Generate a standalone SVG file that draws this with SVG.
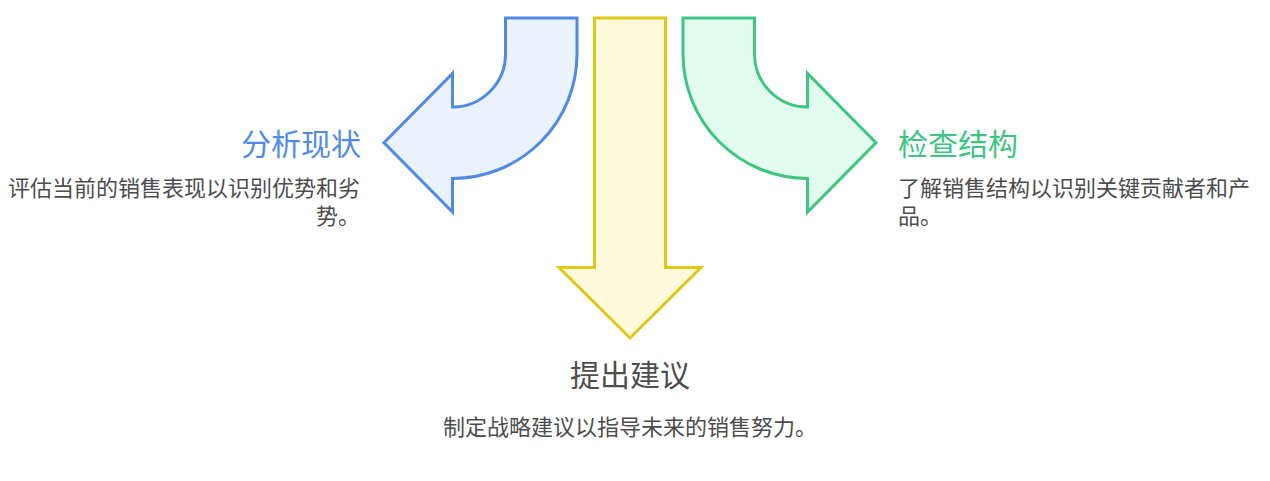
<svg xmlns="http://www.w3.org/2000/svg" width="1270" height="481" viewBox="0 0 1270 481">
<style>
text{font-family:"Noto Sans CJK SC","Noto Sans",sans-serif}
.title{font-size:30px}
.body{font-size:22px;fill:#4d4d4d}
.arrow{stroke-width:3;stroke-linejoin:miter}
</style>
<rect width="1270" height="481" fill="#ffffff"/>
<g id="arrows">
<g id="arrow-left"><path class="arrow" d="M 505.5 18 H 577 V 54 A 124.5 124.5 0 0 1 452.5 178.5 V 212 L 384 142.7 L 452.5 73.5 V 107 A 53 53 0 0 0 505.5 54 Z" fill="#ebf2fe" stroke="#4f8be6"/></g>
<g id="arrow-down"><path class="arrow" d="M 594.5 18 H 665.5 V 267.5 H 701 L 630 338 L 559 267.5 H 594.5 Z" fill="#fefadb" stroke="#e0c815"/></g>
<g id="arrow-right"><path class="arrow" d="M 754.5 18 H 683 V 54 A 124.5 124.5 0 0 0 807.5 178.5 V 212 L 876 142.7 L 807.5 73.5 V 107 A 53 53 0 0 1 754.5 54 Z" fill="#e2fcef" stroke="#3dc681"/></g>
</g>
<g id="node-analyze">
<text class="title" x="361" y="155" text-anchor="end" fill="#4f8be6">分析现状</text>
<text class="body" x="360" y="196" text-anchor="end">评估当前的销售表现以识别优势和劣</text>
<text class="body" x="360" y="224" text-anchor="end">势。</text>
</g>
<g id="node-structure">
<text class="title" x="898" y="155" fill="#3dc681">检查结构</text>
<text class="body" x="898" y="196">了解销售结构以识别关键贡献者和产</text>
<text class="body" x="898" y="224">品。</text>
</g>
<g id="node-suggest">
<text class="title" x="630" y="386" text-anchor="middle" fill="#4d4d4d">提出建议</text>
<text class="body" x="630" y="435" text-anchor="middle">制定战略建议以指导未来的销售努力。</text>
</g>
</svg>
